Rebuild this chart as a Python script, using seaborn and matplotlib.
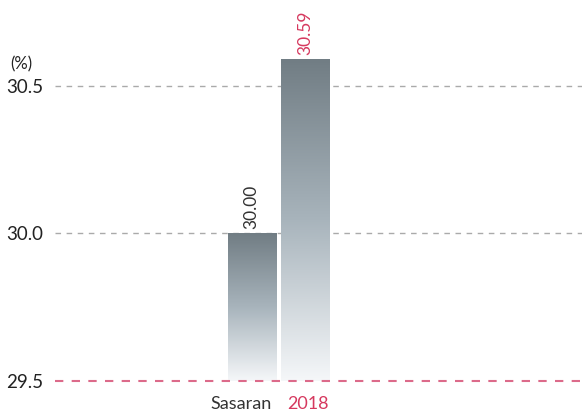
import numpy as np
import pandas as pd
import seaborn as sns
import matplotlib.transforms as mtransforms
from matplotlib import pyplot as plt

# Chart data
categories = ['Sasaran', '2018']
values = [30.00, 30.59]
value_labels = ['30.00', '30.59']
label_colors = ['#333333', '#d6395f']
y_ticks = [29.5, 30.0, 30.5]

sns.set_style('white')
plt.rcParams['font.family'] = ['Lato', 'DejaVu Sans']

df = pd.DataFrame({'cat': categories, 'val': values})

fig = plt.figure(figsize=(5.82, 4.15), dpi=100)
ax = fig.add_axes([0.094, 0.082, 0.906, 0.918])

sns.barplot(data=df, x='cat', y='val', ax=ax, width=0.9, color='#717d84')

ax.set_ylim(29.5, 30.79)
ax.set_xlim(-3.68, 6.17)

# Gradient fill for every bar
gradient = np.linspace(0, 1, 256).reshape(-1, 1)
cmap = sns.blend_palette(['#f5f7f9', '#a8b4bc', '#717d84'], as_cmap=True)
for patch in ax.patches:
    x0, y0 = patch.get_x(), patch.get_y()
    w, h = patch.get_width(), patch.get_height()
    im = ax.imshow(gradient, extent=[x0, x0 + w, 29.5, y0 + h], origin='lower',
                   aspect='auto', cmap=cmap, zorder=2)
    im.set_clip_path(patch)
    patch.set_facecolor('none')
    patch.set_edgecolor('none')

# Value labels above bars
for i, (v, lab) in enumerate(zip(values, value_labels)):
    ax.text(i, v + 0.015, lab, rotation=90, ha='center', va='bottom',
            fontsize=12.5, color=label_colors[i])

# Grid lines
for t in y_ticks[1:]:
    ax.axhline(t, color='#aaaaaa', linestyle=(0, (4, 4)), linewidth=1, zorder=1)
ax.axhline(29.5, color='#dc6a8a', linestyle=(0, (4, 4)), linewidth=1.5, zorder=3,
           clip_on=False)

ax.set_yticks(y_ticks)
ax.set_yticklabels(['29.5', '30.0', '30.5'], fontsize=13.5, color='#222222')
ax.tick_params(axis='y', length=0, pad=8)
ax.tick_params(axis='x', length=0, pad=11)
ax.set_xticks([0, 1])
ax.set_xticklabels(categories, fontsize=13)
shifts = [-11, 3]
for tl, c, s in zip(ax.get_xticklabels(), label_colors, shifts):
    tl.set_color(c)
    tl.set_transform(tl.get_transform() +
                     mtransforms.ScaledTranslation(s / 100, 0, fig.dpi_scale_trans))
ax.set_xlabel('')
ax.set_ylabel('')
sns.despine(ax=ax, left=True, bottom=True)

fig.text(0.017, 0.832, '(%)', fontsize=12, color='#222222')

fig.savefig('out.png', dpi=100)
